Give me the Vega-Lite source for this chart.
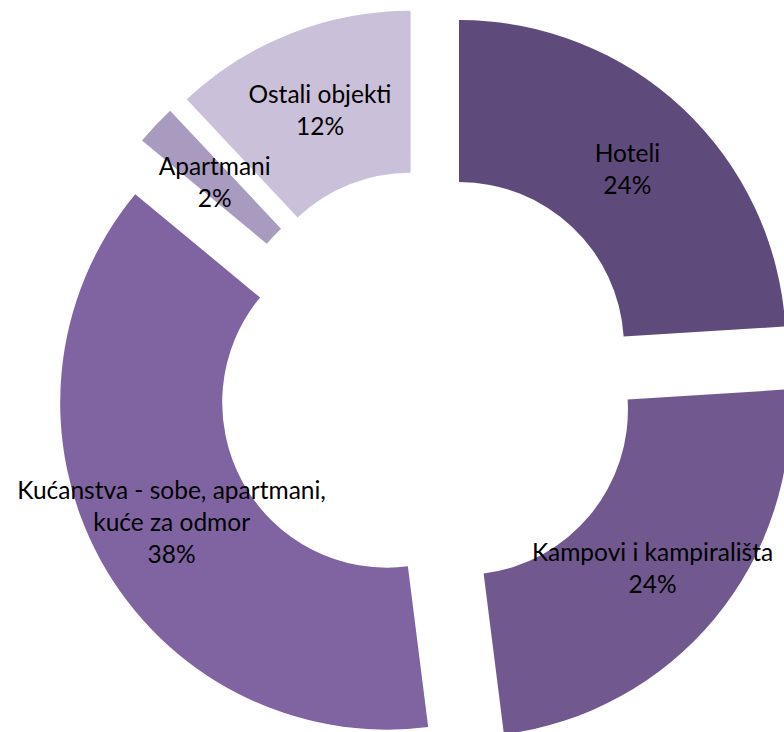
{
  "$schema": "https://vega.github.io/schema/vega-lite/v6.json",
  "width": 713,
  "height": 703,
  "autosize": "none",
  "padding": {"left": 71, "top": 29, "right": 0, "bottom": 0},
  "background": "white",
  "view": {"stroke": null},
  "data": {
    "values": [
      {"kategorija": "Hoteli", "oznaka": "Hoteli\n24%", "udio": 24, "redoslijed": 1},
      {"kategorija": "Kampovi i kampirališta", "oznaka": "Kampovi i kampirališta\n24%", "udio": 24, "redoslijed": 2},
      {"kategorija": "Kućanstva - sobe, apartmani, kuće za odmor", "oznaka": "Kućanstva - sobe, apartmani,\nkuće za odmor\n38%", "udio": 38, "redoslijed": 3},
      {"kategorija": "Apartmani", "oznaka": "Apartmani\n2%", "udio": 2, "redoslijed": 4},
      {"kategorija": "Ostali objekti", "oznaka": "Ostali objekti\n12%", "udio": 12, "redoslijed": 5}
    ]
  },
  "encoding": {
    "theta": {"field": "udio", "type": "quantitative", "stack": true},
    "order": {"field": "redoslijed", "type": "quantitative"}
  },
  "layer": [
    {
      "mark": {
        "type": "arc",
        "outerRadius": 327,
        "innerRadius": 165,
        "x": {"expr": "width/2 + 46*sin(scale('theta', (datum.udio_start + datum.udio_end)/2))"},
        "y": {"expr": "height/2 - 46*cos(scale('theta', (datum.udio_start + datum.udio_end)/2))"}
      },
      "encoding": {
        "color": {
          "field": "kategorija",
          "type": "nominal",
          "legend": null,
          "scale": {
            "domain": ["Hoteli", "Kampovi i kampirališta", "Kućanstva - sobe, apartmani, kuće za odmor", "Apartmani", "Ostali objekti"],
            "range": ["#5F4B7B", "#715990", "#8064A2", "#A99AC0", "#CAC0D9"]
          }
        }
      }
    },
    {
      "mark": {
        "type": "text",
        "radius": 292,
        "lineBreak": "\n",
        "lineHeight": 32,
        "font": "Lato",
        "fontSize": 24.5,
        "fill": "#000000",
        "align": "center",
        "baseline": "middle",
        "dy": {"expr": "3 - 16*(length(split(datum.oznaka, '\\n')) - 1)"}
      },
      "encoding": {
        "detail": {"field": "kategorija", "type": "nominal"},
        "text": {"field": "oznaka", "type": "nominal"}
      }
    }
  ]
}
